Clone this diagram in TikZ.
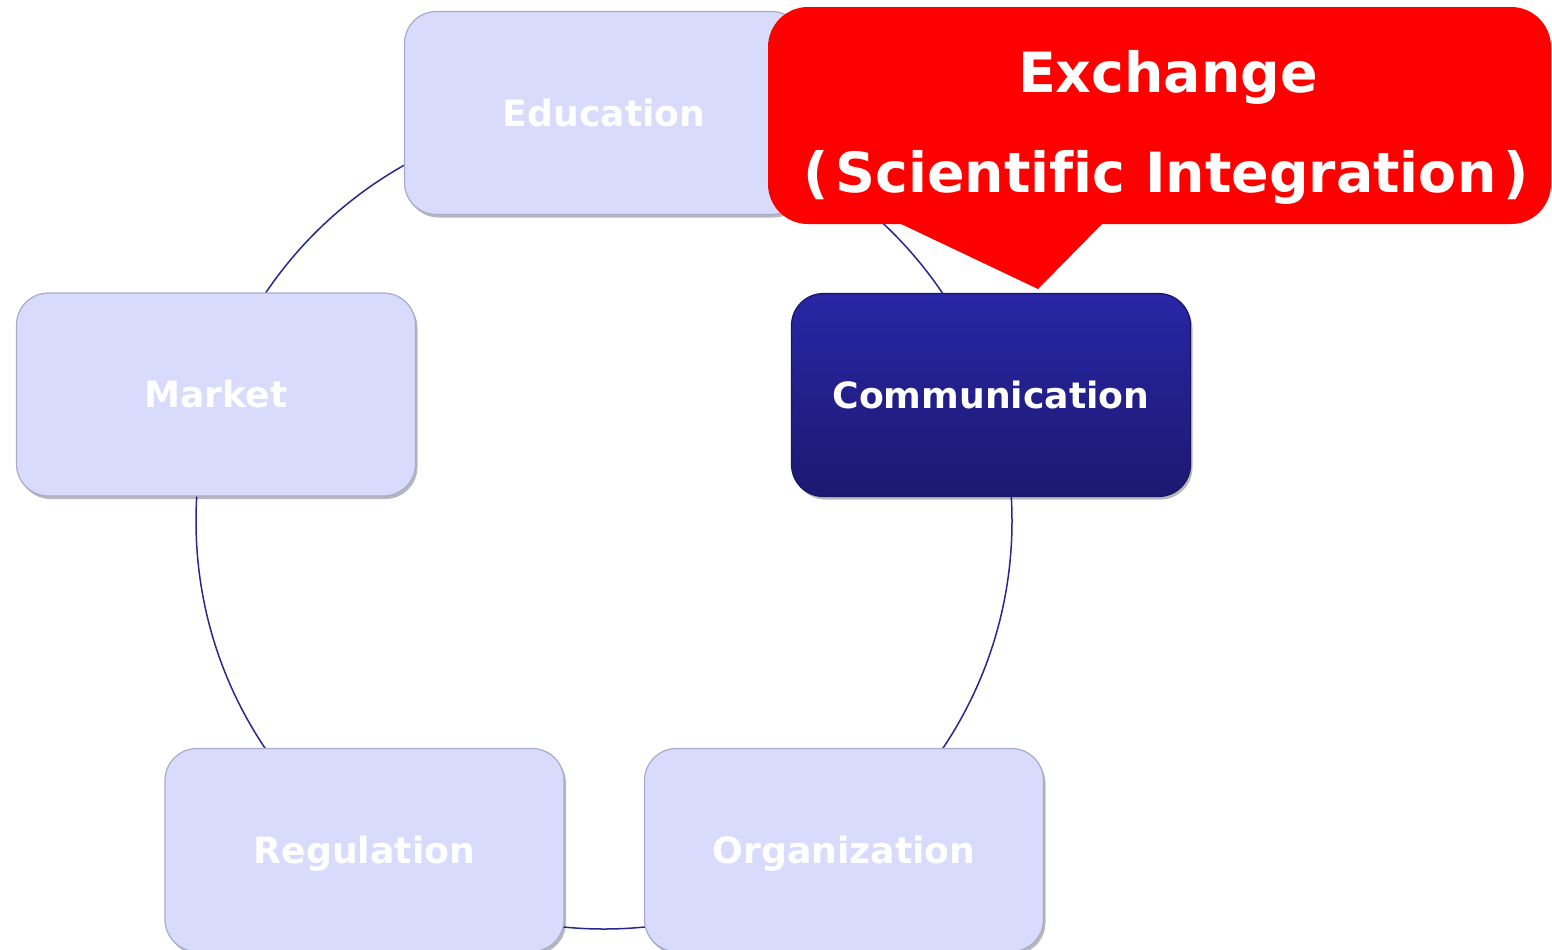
\documentclass[tikz,border=0pt]{standalone}
\usepackage{fontspec}
\setmainfont{DejaVu Sans}[Ligatures=CommonOff]
\usetikzlibrary{shadows}
\definecolor{lav}{RGB}{217,219,252}
\definecolor{lavedge}{RGB}{170,170,204}
\definecolor{ring}{RGB}{40,40,140}
\definecolor{ctop}{RGB}{40,38,165}
\definecolor{cbot}{RGB}{28,25,112}
\definecolor{cedge}{RGB}{24,22,100}
\definecolor{callred}{RGB}{255,0,0}
\begin{document}
\begin{tikzpicture}[x=0.5pt,y=-0.5pt,
  box/.style={rectangle, rounded corners=16pt, minimum width=199.5pt, minimum height=101.5pt,
    inner sep=0pt, font=\bfseries\fontsize{18.1}{20}\selectfont, text=white,
    text height=13.2pt, text depth=0pt, line width=0.6pt,
    drop shadow={shadow xshift=1pt, shadow yshift=-1.5pt, fill=black, opacity=0.28}},
  pale/.style={box, fill=lav, draw=lavedge},
  active/.style={box, top color=ctop, bottom color=cbot, draw=cedge},
  callbox/.style={rectangle, rounded corners=20pt, fill=callred, minimum width=391.5pt,
    minimum height=108.5pt, inner sep=0pt},
  calltxt/.style={font=\bfseries\fontsize{27.7}{32}\selectfont, text=white, inner sep=0pt},
  ringline/.style={draw=ring, line width=0.75pt}
]
\useasboundingbox (0,0) rectangle (1552,949);
\fill[white] (0,0) rectangle (1552,949);
% ring
\coordinate (c) at (604,521);
\draw[ringline] (c) circle[radius=408];
% boxes
\node[pale] (edu) at (604,113) {Education};
\node[pale] (mkt) at (216,394.5) {Market};
\node[active] (com) at (991,395) {Communication};
\node[pale] (reg) at (364.5,850) {Regulation};
\node[pale] (org) at (844,850) {Organization};
% callout
\node[callbox] (callout) at (1159.5,115.5) {};
\coordinate (pl) at (899,223);
\coordinate (pr) at (1103,223);
\coordinate (tip) at (1038,289);
\fill[callred] (pl) -- (tip) -- (pr) -- cycle;
\node[calltxt, anchor=base] (ex1) at (1168,92) {Exchange};
\node[calltxt, anchor=base] (ex2) at (1166,192) {(\kern3.5pt Scientific Integration\kern3.5pt)};
\end{tikzpicture}
\end{document}
